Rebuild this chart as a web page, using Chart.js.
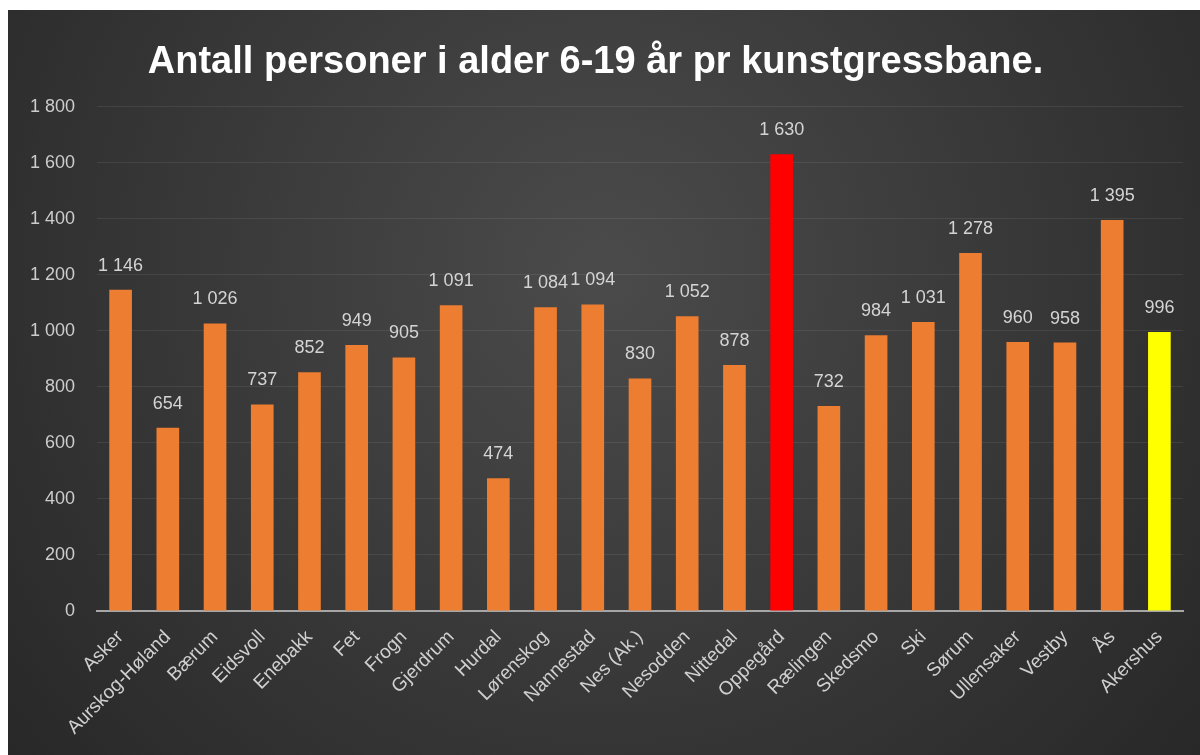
<!DOCTYPE html>
<html>
<head>
<meta charset="utf-8">
<script src="https://cdn.jsdelivr.net/npm/chart.js@4"></script>
<style>
  html, body { margin: 0; padding: 0; background: #fff; }
  #wrap { position: absolute; left: 8px; top: 10px; width: 1192px; height: 745px; }
</style>
</head>
<body>
<div id="wrap"><canvas id="barChart"></canvas></div>
<script>
const kommuner = ['Asker', 'Aurskog-Høland', 'Bærum', 'Eidsvoll', 'Enebakk', 'Fet', 'Frogn', 'Gjerdrum',
  'Hurdal', 'Lørenskog', 'Nannestad', 'Nes (Ak.)', 'Nesodden', 'Nittedal', 'Oppegård', 'Rælingen',
  'Skedsmo', 'Ski', 'Sørum', 'Ullensaker', 'Vestby', 'Ås', 'Akershus'];
const personer = [1146, 654, 1026, 737, 852, 949, 905, 1091, 474, 1084, 1094, 830, 1052, 878, 1630, 732,
  984, 1031, 1278, 960, 958, 1395, 996];
const yTicks = [0, 200, 400, 600, 800, 1000, 1200, 1400, 1600, 1800];

const orange = '#ED7D31';
const barColors = kommuner.map(k => k === 'Oppegård' ? '#FF0000' : (k === 'Akershus' ? '#FFFF00' : orange));

// thousands separator with a space, like "1 800"
function fmt(v) {
  return String(v).replace(/\B(?=(\d{3})+(?!\d))/g, ' ');
}

const bgPlugin = {
  id: 'bg',
  beforeDraw(chart) {
    const c = chart.ctx;
    const w = chart.width, h = chart.height;
    const g = c.createRadialGradient(w * 0.5, h * 0.35, 20, w * 0.5, h * 0.35, w * 0.75);
    g.addColorStop(0, '#4a4a4a');
    g.addColorStop(1, '#222222');
    c.save();
    c.fillStyle = g;
    c.fillRect(0, 0, w, h);
    c.restore();
  }
};

const valueLabels = {
  id: 'valueLabels',
  afterDatasetsDraw(chart) {
    const c = chart.ctx;
    const meta = chart.getDatasetMeta(0);
    c.save();
    c.fillStyle = '#d4d4d4';
    c.font = '18px "Liberation Sans", Arial, sans-serif';
    c.textAlign = 'center';
    c.textBaseline = 'middle';
    meta.data.forEach((bar, i) => {
      c.fillText(fmt(personer[i]), bar.x, bar.y - 24);
    });
    c.restore();
  }
};

const ctx = document.getElementById('barChart').getContext('2d');
new Chart(ctx, {
  type: 'bar',
  data: {
    labels: kommuner,
    datasets: [{
      data: personer,
      backgroundColor: barColors,
      borderWidth: 0,
      barPercentage: 0.48,
      categoryPercentage: 1
    }]
  },
  options: {
    responsive: true,
    maintainAspectRatio: false,
    animation: false,
    layout: { padding: { left: 0, right: 17, top: 0, bottom: 0 } },
    plugins: {
      legend: { display: false },
      tooltip: { enabled: false },
      title: {
        display: true,
        text: 'Antall personer i alder 6-19 år pr kunstgressbane.',
        color: '#ffffff',
        font: { family: '"Liberation Sans", Arial, sans-serif', size: 38, weight: 'bold', lineHeight: 1.2 },
        padding: { top: 30, bottom: 21 }
      }
    },
    scales: {
      x: {
        grid: { display: false, drawTicks: false },
        border: { color: '#a6a6a6', width: 2 },
        ticks: {
          color: '#d0d0d0',
          font: { family: '"Liberation Sans", Arial, sans-serif', size: 19 },
          minRotation: 45,
          maxRotation: 45,
          autoSkip: false,
          padding: 15
        },
        afterFit(scale) { scale.height = 144; }
      },
      y: {
        min: 0,
        max: 1800,
        afterBuildTicks(scale) { scale.ticks = yTicks.map(v => ({ value: v })); },
        grid: { color: 'rgba(255,255,255,0.08)', drawTicks: false },
        border: { display: false },
        ticks: {
          color: '#cccccc',
          font: { family: '"Liberation Sans", Arial, sans-serif', size: 18 },
          padding: 22,
          callback: v => fmt(v)
        },
        afterFit(scale) { scale.width = 89; }
      }
    }
  },
  plugins: [bgPlugin, valueLabels]
});
</script>
</body>
</html>
